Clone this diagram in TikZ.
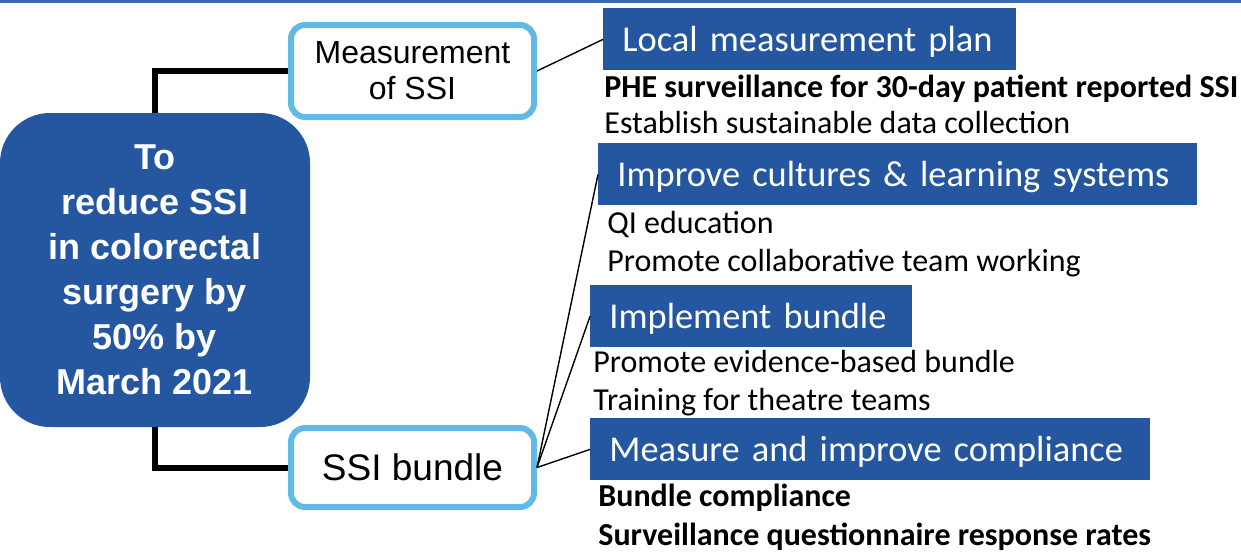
\documentclass[tikz,border=0pt]{standalone}
\usepackage{fontspec}
\setmainfont{Carlito}
\newfontfamily\arialfont{Liberation Sans}
\usetikzlibrary{positioning}
\definecolor{navy}{RGB}{36,87,160}
\definecolor{sky}{RGB}{99,185,230}

\begin{document}
\begin{tikzpicture}[x=0.5pt,y=-0.5pt,
            goal/.style={fill=navy, text=white, rounded corners=25pt, minimum width=155pt, minimum height=157pt, inner sep=0pt, align=center, font=\arialfont\bfseries\fontsize{18}{22.5}\selectfont},
            driver/.style={draw=sky, line width=3pt, fill=white, rounded corners=7pt, minimum width=121.5pt, inner sep=0pt, align=center, font=\arialfont\fontsize{16}{18}\selectfont},
            head/.style={fill=navy, text=white, anchor=north west, minimum height=31pt, inner xsep=9.5pt, inner ysep=0pt, text height=14pt, text depth=2pt, align=left, font=\fontsize{18.2}{22}\selectfont},
            item/.style={anchor=base west, inner sep=0pt, font=\fontsize{16}{19}\selectfont},
            trunk/.style={line width=3pt},
            to/.style={line width=0.7pt}
  ]
  \useasboundingbox (0,0) rectangle (1241,552);
  \fill[navy!90!white] (0,0) rectangle (1241,3);

  \node[goal] (goal) at (155,270) {To\\reduce SSI\\in colorectal\\surgery by\\50\% by\\March 2021};
  \node[driver, minimum height=46pt] (meas) at (412.5,71) {Measurement\\of SSI};
  \node[driver, minimum height=39.5pt, font=\arialfont\fontsize{18.5}{20}\selectfont] (bundle) at (412.5,467.5) {SSI bundle};

  \node[head, text width=187.5pt] (local) at (603,8) {\mbox{Local measurement plan}};
  \node[head, text width=280.5pt] (improve) at (598,143) {\mbox{Improve cultures \& learning systems}};
  \node[head, text width=142pt] (implement) at (590,285) {\mbox{Implement bundle}};
  \node[head, text width=261pt] (measure) at (590,418) {\mbox{Measure and improve compliance}};

  \node[item, font=\bfseries\fontsize{16}{19}\selectfont] (phe) at (604,97) {PHE surveillance for 30-day patient reported SSI};
  \node[item] (establish) at (604,133) {Establish sustainable data collection};
  \node[item] (qi) at (607,233) {QI education};
  \node[item] (collab) at (607,271) {Promote collaborative team working};
  \node[item] (evidence) at (593,372) {Promote evidence-based bundle};
  \node[item] (training) at (593,410) {Training for theatre teams};
  \node[item, font=\bfseries\fontsize{16}{19}\selectfont] (compliance) at (598,506) {Bundle compliance};
  \node[item, font=\bfseries\fontsize{16}{19}\selectfont] (rates) at (598,545) {Surveillance questionnaire response rates};

  \draw[trunk] (goal.north) |- (meas.west);
  \draw[trunk] (goal.south) |- (bundle.west);

  \draw[to] (meas.east) -- (local.west);
  \draw[to] (bundle.east) -- (improve.west);
  \draw[to] (bundle.east) -- (implement.west);
  \draw[to] (bundle.east) -- (measure.west);

\end{tikzpicture}
\end{document}
